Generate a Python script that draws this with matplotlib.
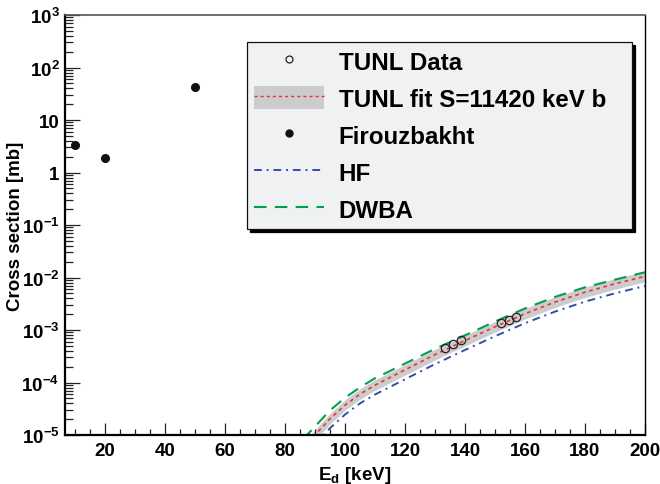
import matplotlib
matplotlib.use("Agg")
from matplotlib import pyplot as plt
from matplotlib.patches import Patch
from matplotlib.lines import Line2D
from matplotlib.ticker import FixedLocator, FixedFormatter, MultipleLocator

# ---- data ----
tunl_E = [133.4, 135.9, 138.6, 152.1, 154.6, 157.1]
tunl_xs = [4.5e-4, 5.5e-4, 6.45e-4, 1.38e-3, 1.57e-3, 1.77e-3]

firouz_E = [10, 20, 50]
firouz_xs = [3.4, 1.9, 43]

fit_E = [88, 90, 95, 100, 105, 110, 120, 130, 140, 150, 160, 170, 180, 190, 200]
fit_xs = [7.1e-6, 1.0e-5, 2.04e-5, 3.7e-5, 6.0e-5, 8.9e-5, 1.74e-4, 3.4e-4,
          6.3e-4, 1.15e-3, 2.04e-3, 3.4e-3, 5.25e-3, 7.6e-3, 1.05e-2]
fit_hi = [8.9e-6, 1.26e-5, 2.57e-5, 4.68e-5, 7.6e-5, 1.12e-4, 2.19e-4, 4.27e-4,
          7.9e-4, 1.45e-3, 2.57e-3, 4.27e-3, 6.6e-3, 9.5e-3, 1.32e-2]
fit_lo = [5.6e-6, 7.9e-6, 1.62e-5, 2.95e-5, 4.8e-5, 7.1e-5, 1.38e-4, 2.69e-4,
          5.0e-4, 9.1e-4, 1.62e-3, 2.69e-3, 4.17e-3, 6.0e-3, 8.3e-3]

dwba_E = [86, 90, 95, 100, 105, 110, 120, 130, 140, 150, 160, 170, 180, 190, 200]
dwba_xs = [8.3e-6, 1.45e-5, 2.95e-5, 5.1e-5, 8.1e-5, 1.2e-4, 2.29e-4, 4.37e-4,
           7.9e-4, 1.45e-3, 2.57e-3, 4.27e-3, 6.5e-3, 9.1e-3, 1.26e-2]

hf_E = [90, 95, 100, 105, 110, 120, 130, 140, 150, 160, 170, 180, 190, 200]
hf_xs = [6.6e-6, 1.35e-5, 2.45e-5, 4.0e-5, 5.9e-5, 1.15e-4, 2.24e-4, 4.17e-4,
         7.6e-4, 1.35e-3, 2.24e-3, 3.47e-3, 5.0e-3, 6.9e-3]

y_ticks = [1e-5, 1e-4, 1e-3, 1e-2, 1e-1, 1, 10, 100, 1000]
y_labels = ['$10^{-5}$', '$10^{-4}$', '$10^{-3}$', '$10^{-2}$', '$10^{-1}$',
            '1', '10', '$10^{2}$', '$10^{3}$']

labels = ['TUNL Data', 'TUNL fit S=11420 keV b', 'Firouzbakht', 'HF', 'DWBA']

# ---- style ----
plt.rcParams['font.family'] = ['Liberation Sans', 'DejaVu Sans']
plt.rcParams['font.weight'] = 'bold'
plt.rcParams['mathtext.fontset'] = 'custom'
plt.rcParams['mathtext.bf'] = 'Liberation Sans:bold'
plt.rcParams['mathtext.rm'] = 'Liberation Sans:bold'
plt.rcParams['mathtext.it'] = 'Liberation Sans:bold'
plt.rcParams['mathtext.default'] = 'bf'

RED = '#e8323c'
BLUE = '#2f4fa8'
GREEN = '#00a04a'
BAND = '#cccccc'

fig = plt.figure(figsize=(6.6, 4.85), dpi=100)
ax = fig.add_axes([65 / 660, 1 - 436 / 485, 580 / 660, 420 / 485])

ax.fill_between(fit_E, fit_lo, fit_hi, color=BAND, lw=0, zorder=1)
ax.plot(fit_E, fit_xs, color=RED, lw=1.2, dashes=(2.2, 2.2), zorder=2)
ax.plot(hf_E, hf_xs, color=BLUE, lw=1.4, dashes=(4, 2.5, 1, 2.5), zorder=2)
ax.plot(dwba_E, dwba_xs, color=GREEN, lw=1.5, dashes=(6, 4), zorder=2)
ax.plot(tunl_E, tunl_xs, 'o', ms=6, mfc='none', mec='#222222', mew=0.9, zorder=3)
ax.plot(firouz_E, firouz_xs, 'o', ms=5.5, color='#111111', zorder=3)

ax.set_yscale('log')
ax.set_xlim(6.67, 200)
ax.set_ylim(1e-5, 1e3)

ax.yaxis.set_major_locator(FixedLocator(y_ticks))
ax.yaxis.set_major_formatter(FixedFormatter(y_labels))
ax.xaxis.set_major_locator(MultipleLocator(20))
ax.xaxis.set_minor_locator(MultipleLocator(5))

ax.tick_params(axis='both', which='both', direction='in', top=False, right=False,
               labelsize=13.5, width=0.9, color='#222222')
ax.tick_params(axis='x', which='major', length=9, pad=5)
ax.tick_params(axis='x', which='minor', length=4.3)
ax.tick_params(axis='y', which='major', length=11, pad=4)
ax.tick_params(axis='y', which='minor', length=5.5)

ax.spines['left'].set_linewidth(1.6)
ax.spines['bottom'].set_linewidth(1.6)
ax.spines['top'].set_linewidth(1.2)
ax.spines['top'].set_color('#555555')
ax.spines['right'].set_linewidth(1.0)

ax.set_xlabel('$E_{d}$ [keV]', fontsize=13.5, fontweight='bold', labelpad=4)
ax.set_ylabel('Cross section [mb]', fontsize=13.5, fontweight='bold', labelpad=-2)

# legend
h_data = Line2D([], [], ls='none', marker='o', ms=5, mfc='none', mec='#222222', mew=0.9)
h_fit = (Patch(facecolor=BAND, edgecolor='none'),
         Line2D([], [], color=RED, lw=1.0, dashes=(2.2, 2.2)))
h_fir = Line2D([], [], ls='none', marker='o', ms=5, color='#111111')
h_hf = Line2D([], [], color=BLUE, lw=1.4, dashes=(4, 2.5, 1, 2.5))
h_dw = Line2D([], [], color=GREEN, lw=1.5, dashes=(6, 4))

leg = ax.legend([h_data, h_fit, h_fir, h_hf, h_dw], labels,
                loc='upper left', mode='expand',
                bbox_to_anchor=(247 / 660, 1 - 227 / 485, 385 / 660, 184 / 485),
                bbox_transform=fig.transFigure, prop={'weight': 'bold', 'size': 17.4},
                frameon=True, fancybox=False, framealpha=1, edgecolor='#111111',
                facecolor='#f0f1f3', shadow={'color': 'black', 'alpha': 1},
                handlelength=2.9, handleheight=1.1, handletextpad=0.6,
                labelspacing=0.5, borderpad=0.3, borderaxespad=0)
leg.get_frame().set_linewidth(0.9)

fig.savefig('out.png', dpi=100)
